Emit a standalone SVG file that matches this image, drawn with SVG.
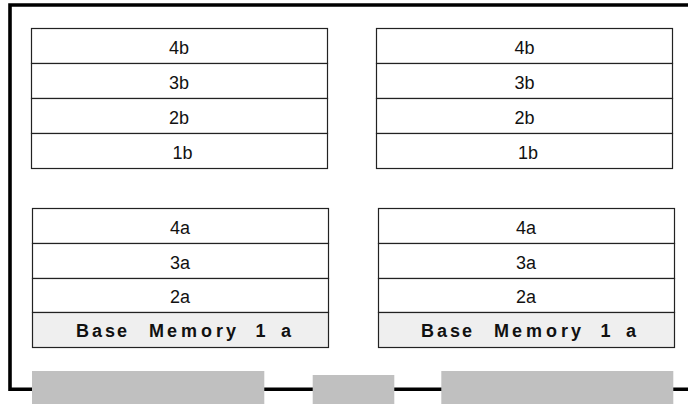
<svg xmlns="http://www.w3.org/2000/svg" width="688" height="404" viewBox="0 0 688 404">
<style>
.row{fill:#ffffff;stroke:#222;stroke-width:1.2}
.base{fill:#efefef;stroke:#222;stroke-width:1.2}
.lbl{font-family:"Liberation Sans",Arial,sans-serif;font-size:18px;fill:#111;text-anchor:middle}
.blbl{font-family:"Liberation Sans",Arial,sans-serif;font-size:18px;font-weight:bold;fill:#111}
.slot{fill:#c0c0c0}
.bus{fill:none;stroke:#000;stroke-width:3.6}
</style>
<rect width="688" height="404" fill="#fff"/>
<g id="connectors">
<path class="bus" d="M688 5 H10 V389.3 H688"/>
</g>
<g id="stack-left-top">
<rect class="row" x="31.5" y="28.5" width="296" height="35"/>
<rect class="row" x="31.5" y="63.5" width="296" height="35"/>
<rect class="row" x="31.5" y="98.5" width="296" height="35"/>
<rect class="row" x="31.5" y="133.5" width="296" height="35"/>
<text class="lbl" x="179" y="54.3">4b</text>
<text class="lbl" x="179" y="89.3">3b</text>
<text class="lbl" x="179" y="124.3">2b</text>
<text class="lbl" x="182.5" y="159.3">1b</text>
</g>
<g id="stack-right-top">
<rect class="row" x="376.5" y="28.5" width="296" height="35"/>
<rect class="row" x="376.5" y="63.5" width="296" height="35"/>
<rect class="row" x="376.5" y="98.5" width="296" height="35"/>
<rect class="row" x="376.5" y="133.5" width="296" height="35"/>
<text class="lbl" x="524.5" y="54.3">4b</text>
<text class="lbl" x="524.5" y="89.3">3b</text>
<text class="lbl" x="524.5" y="124.3">2b</text>
<text class="lbl" x="528" y="159.3">1b</text>
</g>
<g id="stack-left-bottom">
<rect class="row" x="32.5" y="208.5" width="296" height="35"/>
<rect class="row" x="32.5" y="243.5" width="296" height="35"/>
<rect class="row" x="32.5" y="278.5" width="296" height="34"/>
<rect class="base" x="32.5" y="312.5" width="296" height="35"/>
<text class="lbl" x="180" y="234.3">4a</text>
<text class="lbl" x="180" y="268.6">3a</text>
<text class="lbl" x="180" y="302.8">2a</text>
<text class="blbl" x="76 92 105 117 149 167 181 201 216 226 255.5 281" y="337.3">BaseMemory1a</text>
</g>
<g id="stack-right-bottom">
<rect class="row" x="378.5" y="208.5" width="296" height="35"/>
<rect class="row" x="378.5" y="243.5" width="296" height="35"/>
<rect class="row" x="378.5" y="278.5" width="296" height="34"/>
<rect class="base" x="378.5" y="312.5" width="296" height="35"/>
<text class="lbl" x="526" y="234.3">4a</text>
<text class="lbl" x="526" y="268.6">3a</text>
<text class="lbl" x="526" y="302.8">2a</text>
<text class="blbl" x="421 437 450 462 494 512 526 546 561 571 600.5 626" y="337.3">BaseMemory1a</text>
</g>
<g id="slot-left"><rect class="slot" x="32" y="371" width="232.3" height="33"/></g>
<g id="slot-middle"><rect class="slot" x="312.7" y="375" width="81.6" height="29"/></g>
<g id="slot-right"><rect class="slot" x="441.3" y="371" width="232" height="33"/></g>
</svg>
